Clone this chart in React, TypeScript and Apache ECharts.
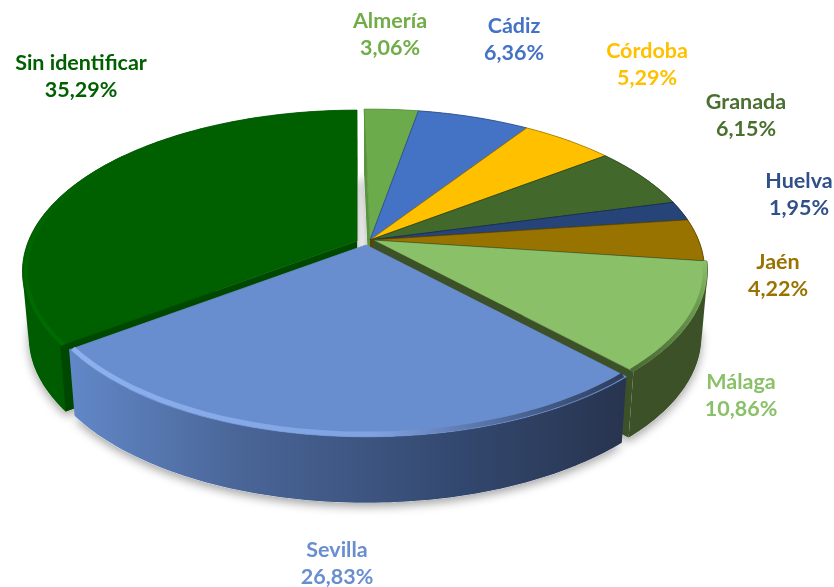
import React, { useEffect, useRef } from "react";
import * as echarts from "echarts";

const categories = ["Almería", "Cádiz", "Córdoba", "Granada", "Huelva", "Jaén", "Málaga", "Sevilla", "Sin identificar"];
const shares = [3.06, 6.36, 5.29, 6.15, 1.95, 4.22, 10.86, 26.83, 35.29];

const topColors = ["#6cab4b", "#4472c4", "#ffc000", "#43682b", "#264478", "#997300", "#8ac067", "#698ed0", "#006000"];
const wallColors = ["#4f7f35", "#2f5597", "#b88a00", "#2f4a1e", "#1a3055", "#6e5200", "#3c5127", "#3c5a90", "#005c00"];
const cutColors = ["#5b9440", "#2d4f8c", "#a07800", "#2f4a1e", "#1a3055", "#5a4400", "#3c5127", "#2a3a5a", "#004800"];
const edgeColors = ["#5b9440", "#2d4f8c", "#a07800", "#2f4a1e", "#1a3055", "#5a4400", "#3c5127", "#698ed0", "#005800"];
const labelColors = ["#70ad47", "#4472c4", "#ffc000", "#4a7030", "#2f5089", "#997300", "#8ac067", "#698ed0", "#006000"];
const drawOrder = [8, 0, 1, 2, 3, 4, 5, 6, 7];

const labelCenters = [[390, 33], [514, 38], [647, 63], [746, 114], [799, 193], [778, 274], [741, 394], [337, 562], [81, 75]];
const sliceShift = [[0, 0], [0, 0], [0, 0], [0, 0], [0, 0], [0, 0], [3, 0], [-4, 5], [-13, 1]];

const CX = 370, CY = 244, R = 330, S = 157, K = 0.164, DEPTH = 66, LOW_SCALE = 0.982, APEX_LIFT = 4;
// view correction (degrees) of the projected angle, [angle, correction]
const viewWarp = [[0, -1.2], [100, -1.2], [137, -0.5], [233, 1.5], [300, 0.6], [360, 0]];

function warp(t: number) {
  const deg = (t * 180) / Math.PI;
  for (let i = 1; i < viewWarp.length; i++) {
    const [a0, c0] = viewWarp[i - 1], [a1, c1] = viewWarp[i];
    if (deg <= a1 + 1e-6) return t + ((c0 + ((deg - a0) / (a1 - a0)) * (c1 - c0)) * Math.PI) / 180;
  }
  return t;
}
function pt(t: number, r: number, dx: number, dy: number, z: number) {
  const tt = warp(t);
  const u = r * Math.sin(tt), v = r * Math.cos(tt), w = 1 + K * v;
  const x = CX + (R * u) / w + dx;
  return [z > 0 ? CX + (x - CX) * LOW_SCALE : x, CY - (S * v) / w + dy + z];
}
function arc(t0: number, t1: number, r: number, dx: number, dy: number, z: number) {
  const n = Math.max(6, Math.ceil(((t1 - t0) * 180) / Math.PI));
  const out: number[][] = [];
  for (let i = 0; i <= n; i++) out.push(pt(t0 + ((t1 - t0) * i) / n, r, dx, dy, z));
  return out;
}
function hull(points: number[][]) {
  const p = points.slice().sort((a, b) => a[0] - b[0] || a[1] - b[1]);
  const cross = (o: number[], a: number[], b: number[]) => (a[0] - o[0]) * (b[1] - o[1]) - (a[1] - o[1]) * (b[0] - o[0]);
  const build = (list: number[][]) => {
    const out: number[][] = [];
    for (const q of list) {
      while (out.length >= 2 && cross(out[out.length - 2], out[out.length - 1], q) <= 0) out.pop();
      out.push(q);
    }
    out.pop();
    return out;
  };
  return [...build(p), ...build(p.slice().reverse())];
}

const total = shares.reduce((a, b) => a + b, 0);
function range(i: number) {
  let sum = 0;
  for (let j = 0; j < i; j++) sum += shares[j];
  const a = (sum / total) * Math.PI * 2;
  return [a, Math.min(a + (shares[i] / total) * Math.PI * 2, Math.PI * 2)];
}

function renderItem(params: any, api: any) {
  const i = params.dataIndex;
  const [t0, t1] = range(i);
  const [dx, dy] = sliceShift[i];
  const base = (drawOrder.indexOf(i) + 1) * 10;
  const topArc = arc(t0, t1, 1, dx, dy, 0);
  const lowArc = arc(t0, t1, 1, dx, dy, DEPTH);
  const apex = pt(0, 0, dx, dy - APEX_LIFT, 0);
  const apexLow = pt(0, 0, dx, dy - APEX_LIFT, DEPTH);
  const children: any[] = [];

  children.push({
    type: "polygon", z2: 1, shape: { points: [apexLow, ...lowArc] },
    style: { fill: "#ffffff", shadowBlur: 10, shadowColor: "rgba(0,0,0,0.35)", shadowOffsetX: 0, shadowOffsetY: 4 },
  });

  const first = topArc[0], last = topArc[topArc.length - 1];
  if (i === 7) {
    children.push({
      type: "polygon", z2: base + 1, shape: { points: [...topArc, ...lowArc.slice().reverse()] },
      style: {
        fill: new echarts.graphic.LinearGradient(0, 0, 1, 0, [
          { offset: 0, color: "#6288c8" }, { offset: 0.3, color: "#4a6698" },
          { offset: 0.7, color: "#33486f" }, { offset: 1, color: "#28344f" },
        ]),
      },
    });
  } else {
    children.push({
      type: "polygon", z2: base, shape: { points: hull([...topArc, ...lowArc]) },
      style: { fill: wallColors[i] },
    });
    children.push({
      type: "polygon", z2: base + 1, shape: { points: [apex, first, lowArc[0], apexLow] },
      style: { fill: cutColors[i] },
    });
    children.push({
      type: "polygon", z2: base + 1, shape: { points: [apex, last, lowArc[lowArc.length - 1], apexLow] },
      style: { fill: cutColors[i] },
    });
  }
  children.push({
    type: "polygon", z2: base + 2, shape: { points: [apex, ...topArc] },
    style: { fill: topColors[i], stroke: edgeColors[i], lineWidth: i === 6 ? 0.6 : 0.8 },
  });
  if (i === 7) {
    children.push({
      type: "polyline", z2: base + 3, shape: { points: arc(t0, t1, 0.988, dx, dy, 0) },
      style: {
        fill: null, lineWidth: 5,
        stroke: new echarts.graphic.LinearGradient(0, 0, 1, 0, [
          { offset: 0, color: "#8db0ee" }, { offset: 0.55, color: "#7fa2e0" },
          { offset: 0.8, color: "#4d6797" }, { offset: 1, color: "#2e3c5c" },
        ]),
      },
    });
  }
  if (i === 6) {
    children.push({
      type: "polyline", z2: base + 3, shape: { points: arc(t0, t1, 0.992, dx, dy, 0) },
      style: {
        fill: null, lineWidth: 4,
        stroke: new echarts.graphic.LinearGradient(0, 0, 0, 1, [
          { offset: 0, color: "#8ac067" }, { offset: 0.35, color: "#6f9f52" }, { offset: 1, color: "#4a6a36" },
        ]),
      },
    });
  }
  if (i === 8) {
    children.push({
      type: "polyline", z2: base + 3, shape: { points: arc(t0, t0 + 1.3, 0.99, dx, dy, 0) },
      style: {
        fill: null, lineWidth: 4,
        stroke: new echarts.graphic.LinearGradient(0, 0, 0, 1, [
          { offset: 0, color: "#006000" }, { offset: 1, color: "#006c00" },
        ]),
      },
    });
  }
  const [lx, ly] = labelCenters[i];
  children.push({
    type: "text", z2: 500, x: lx, y: ly,
    style: {
      text: `${categories[i]}\n${api.value(0).toFixed(2).replace(".", ",")}%`,
      fill: labelColors[i], align: "center", verticalAlign: "middle",
      font: "bold 21.5px Lato, sans-serif", lineHeight: 27,
    },
  });
  return { type: "group", children };
}

export default function App() {
  const ref = useRef<HTMLDivElement>(null);
  useEffect(() => {
    const chart = echarts.init(ref.current!, undefined, { renderer: "svg" });
    chart.setOption({
      animation: false,
      backgroundColor: "#ffffff",
      series: [{
        type: "custom", coordinateSystem: "none", renderItem,
        data: categories.map((name, i) => ({ name, value: [shares[i]] })),
      }],
    });
    return () => chart.dispose();
  }, []);
  return <div ref={ref} style={{ position: "absolute", left: 0, top: 0, width: 834, height: 587, filter: "blur(0.6px)" }} />;
}
